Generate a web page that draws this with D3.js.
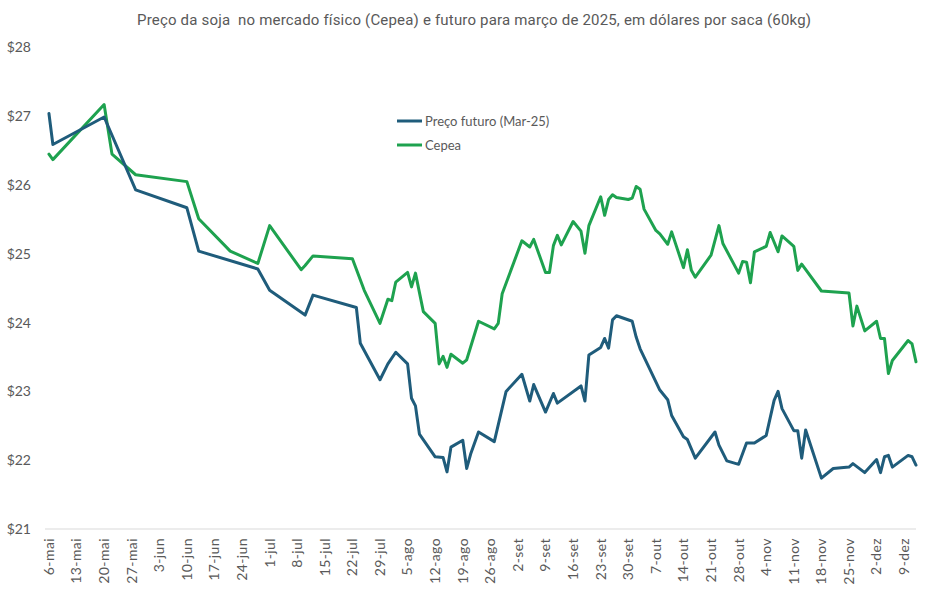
<!DOCTYPE html>
<html>
<head>
<meta charset="utf-8">
<script src="https://cdn.jsdelivr.net/npm/d3@7"></script>
<style>
    html, body { margin: 0; padding: 0; background: #ffffff; }
    svg { display: block; }
</style>
</head>
<body>
<svg id="chart"></svg>
<script>
const title = 'Preço da soja  no mercado físico (Cepea) e futuro para março de 2025, em dólares por saca (60kg)';

const seriesNames = ['Preço futuro (Mar-25)', 'Cepea'];

const futuroDates = [
    '2024-05-06', '2024-05-07', '2024-05-20', '2024-05-28', '2024-06-10', '2024-06-13',
    '2024-06-28', '2024-07-01', '2024-07-09', '2024-07-10', '2024-07-12', '2024-07-23',
    '2024-07-24', '2024-07-29', '2024-07-31', '2024-08-02', '2024-08-05', '2024-08-06',
    '2024-08-07', '2024-08-08', '2024-08-12', '2024-08-14', '2024-08-15', '2024-08-16',
    '2024-08-19', '2024-08-20', '2024-08-21', '2024-08-23', '2024-08-27', '2024-08-30',
    '2024-09-03', '2024-09-05', '2024-09-06', '2024-09-09', '2024-09-11', '2024-09-12',
    '2024-09-18', '2024-09-19', '2024-09-20', '2024-09-23', '2024-09-24', '2024-09-25',
    '2024-09-26', '2024-09-27', '2024-10-01', '2024-10-02', '2024-10-03', '2024-10-08',
    '2024-10-10', '2024-10-11', '2024-10-14', '2024-10-15', '2024-10-17', '2024-10-22',
    '2024-10-23', '2024-10-25', '2024-10-28', '2024-10-30', '2024-11-01', '2024-11-04',
    '2024-11-06', '2024-11-07', '2024-11-08', '2024-11-11', '2024-11-12', '2024-11-13',
    '2024-11-14', '2024-11-18', '2024-11-21', '2024-11-25', '2024-11-26', '2024-11-29',
    '2024-12-02', '2024-12-03', '2024-12-04', '2024-12-05', '2024-12-06', '2024-12-10',
    '2024-12-11', '2024-12-12'
];
const futuroValues = [
    27.04, 26.59, 26.99, 25.93, 25.67, 25.04,
    24.78, 24.47, 24.15, 24.11, 24.40, 24.22,
    23.70, 23.17, 23.40, 23.57, 23.40, 22.90,
    22.79, 22.38, 22.05, 22.04, 21.83, 22.19,
    22.29, 21.88, 22.09, 22.41, 22.27, 23.00,
    23.25, 22.86, 23.10, 22.70, 22.97, 22.83,
    23.08, 22.86, 23.53, 23.64, 23.77, 23.63,
    24.04, 24.10, 24.02, 23.79, 23.62, 23.02,
    22.88, 22.65, 22.34, 22.30, 22.03, 22.41,
    22.22, 21.99, 21.94, 22.25, 22.25, 22.36,
    22.87, 23.00, 22.75, 22.43, 22.43, 22.03,
    22.44, 21.74, 21.88, 21.90, 21.95, 21.82,
    22.01, 21.82, 22.05, 22.07, 21.90, 22.07,
    22.05, 21.93
];

const cepeaDates = [
    '2024-05-06', '2024-05-07', '2024-05-20', '2024-05-22', '2024-05-28', '2024-06-10',
    '2024-06-13', '2024-06-21', '2024-06-28', '2024-07-01', '2024-07-09', '2024-07-10',
    '2024-07-12', '2024-07-22', '2024-07-25', '2024-07-29', '2024-07-31', '2024-08-01',
    '2024-08-02', '2024-08-05', '2024-08-06', '2024-08-07', '2024-08-09', '2024-08-12',
    '2024-08-13', '2024-08-14', '2024-08-15', '2024-08-16', '2024-08-19', '2024-08-20',
    '2024-08-23', '2024-08-27', '2024-08-28', '2024-08-29', '2024-09-03', '2024-09-05',
    '2024-09-06', '2024-09-09', '2024-09-10', '2024-09-11', '2024-09-12', '2024-09-13',
    '2024-09-16', '2024-09-18', '2024-09-19', '2024-09-20', '2024-09-23', '2024-09-24',
    '2024-09-25', '2024-09-26', '2024-09-27', '2024-09-30', '2024-10-01', '2024-10-02',
    '2024-10-03', '2024-10-04', '2024-10-07', '2024-10-08', '2024-10-10', '2024-10-11',
    '2024-10-14', '2024-10-15', '2024-10-16', '2024-10-17', '2024-10-21', '2024-10-23',
    '2024-10-24', '2024-10-28', '2024-10-29', '2024-10-30', '2024-10-31', '2024-11-01',
    '2024-11-04', '2024-11-05', '2024-11-07', '2024-11-08', '2024-11-11', '2024-11-12',
    '2024-11-13', '2024-11-18', '2024-11-25', '2024-11-26', '2024-11-27', '2024-11-29',
    '2024-12-02', '2024-12-03', '2024-12-04', '2024-12-05', '2024-12-06', '2024-12-10',
    '2024-12-11', '2024-12-12'
];
const cepeaValues = [
    26.45, 26.37, 27.17, 26.45, 26.15, 26.05,
    25.51, 25.04, 24.86, 25.41, 24.77, 24.83,
    24.97, 24.93, 24.47, 23.99, 24.34, 24.32,
    24.59, 24.73, 24.52, 24.72, 24.16, 23.99,
    23.40, 23.51, 23.35, 23.54, 23.41, 23.46,
    24.02, 23.91, 23.99, 24.42, 25.19, 25.10,
    25.21, 24.73, 24.73, 25.12, 25.27, 25.13,
    25.47, 25.33, 25.01, 25.41, 25.83, 25.56,
    25.79, 25.86, 25.82, 25.79, 25.81, 25.98,
    25.94, 25.65, 25.34, 25.29, 25.14, 25.32,
    24.80, 25.06, 24.76, 24.66, 24.98, 25.41,
    25.15, 24.72, 24.89, 24.88, 24.58, 25.03,
    25.11, 25.31, 25.03, 25.26, 25.11, 24.76,
    24.85, 24.46, 24.43, 23.95, 24.24, 23.88,
    24.02, 23.77, 23.77, 23.26, 23.45, 23.74,
    23.69, 23.43
];

const tickDates = [
    '2024-05-06', '2024-05-13', '2024-05-20', '2024-05-27', '2024-06-03', '2024-06-10',
    '2024-06-17', '2024-06-24', '2024-07-01', '2024-07-08', '2024-07-15', '2024-07-22',
    '2024-07-29', '2024-08-05', '2024-08-12', '2024-08-19', '2024-08-26', '2024-09-02',
    '2024-09-09', '2024-09-16', '2024-09-23', '2024-09-30', '2024-10-07', '2024-10-14',
    '2024-10-21', '2024-10-28', '2024-11-04', '2024-11-11', '2024-11-18', '2024-11-25',
    '2024-12-02', '2024-12-09'
];
const monthNames = ['jan', 'fev', 'mar', 'abr', 'mai', 'jun', 'jul', 'ago', 'set', 'out', 'nov', 'dez'];

const yTicks = [21, 22, 23, 24, 25, 26, 27, 28];

class SoyChart {
    constructor (selector) {
        this._selector = selector;
        this.w = 948;
        this.h = 590;
        this.colors = ['#1f5c7b', '#1ea24f'];
        this.font = 'Lato, "Open Sans", sans-serif';
        this.textColor = '#595959';

        this.svg = d3.select(selector)
            .attr('width', this.w)
            .attr('height', this.h);

        let parse = d3.utcParse('%Y-%m-%d');
        this.parse = parse;

        this.x = d3.scaleUtc()
            .domain([parse('2024-05-05'), parse('2024-12-12')])
            .range([45, 916]);

        this.y = d3.scaleLinear()
            .domain([21, 28])
            .range([529, 47.5]);
    }
    makeSeries (dates, values) {
        let list = [];
        for (let i = 0; i < dates.length; i++)
            list.push({ date: this.parse(dates[i]), value: values[i] });

        return list;
    }
    drawTitle () {
        this.svg.append('text')
            .attr('x', 474)
            .attr('y', 25)
            .attr('text-anchor', 'middle')
            .style('white-space', 'pre')
            .attr('font-family', 'Roboto, sans-serif')
            .attr('font-size', 15)
            .attr('textLength', 674)
            .attr('fill', this.textColor)
            .text(title);
    }
    drawYAxis () {
        let y = this.y;

        this.svg.append('g')
            .attr('class', 'y labels')
            .selectAll('text')
            .data(yTicks)
            .enter()
            .append('text')
            .attr('x', 31)
            .attr('y', (d) => { return y(d); })
            .attr('dy', '0.35em')
            .attr('text-anchor', 'end')
            .attr('font-family', this.font)
            .attr('font-size', 14)
            .attr('fill', this.textColor)
            .text((d) => { return '$' + d; });
    }
    drawXAxis () {
        let x = this.x;
        let parse = this.parse;
        let y0 = this.y(21);

        this.svg.append('line')
            .attr('x1', x.range()[0])
            .attr('x2', x.range()[1])
            .attr('y1', y0)
            .attr('y2', y0)
            .attr('stroke', '#d9d9d9')
            .attr('stroke-width', 1);

        this.svg.append('g')
            .attr('class', 'x labels')
            .selectAll('text')
            .data(tickDates)
            .enter()
            .append('text')
            .attr('transform', (d) => {
                return 'translate(' + x(parse(d)) + ',' + (y0 + 9) + ') rotate(-90)';
            })
            .attr('dy', '0.35em')
            .attr('text-anchor', 'end')
            .attr('font-family', this.font)
            .attr('font-size', 14)
            .attr('letter-spacing', 0.4)
            .attr('fill', this.textColor)
            .text((d) => {
                let dt = parse(d);
                return dt.getUTCDate() + '-' + monthNames[dt.getUTCMonth()];
            });
    }
    drawLines () {
        let x = this.x;
        let y = this.y;

        let line = d3.line()
            .x((d) => { return x(d.date); })
            .y((d) => { return y(d.value); });

        let data = [
            { name: seriesNames[1], color: this.colors[1], values: this.makeSeries(cepeaDates, cepeaValues) },
            { name: seriesNames[0], color: this.colors[0], values: this.makeSeries(futuroDates, futuroValues) },
        ];

        this.svg.append('g')
            .attr('class', 'lines')
            .selectAll('path')
            .data(data)
            .enter()
            .append('path')
            .attr('d', (d) => { return line(d.values); })
            .attr('fill', 'none')
            .attr('stroke', (d) => { return d.color; })
            .attr('stroke-width', 3)
            .attr('stroke-linejoin', 'round')
            .attr('stroke-linecap', 'round');
    }
    drawLegend () {
        let items = [
            { name: seriesNames[0], color: this.colors[0], y: 121 },
            { name: seriesNames[1], color: this.colors[1], y: 145 },
        ];

        let g = this.svg.append('g')
            .attr('class', 'legend')
            .selectAll('g')
            .data(items)
            .enter()
            .append('g');

        g.append('line')
            .attr('x1', 397)
            .attr('x2', 422)
            .attr('y1', (d) => { return d.y; })
            .attr('y2', (d) => { return d.y; })
            .attr('stroke', (d) => { return d.color; })
            .attr('stroke-width', 3);

        g.append('text')
            .attr('x', 425)
            .attr('y', (d) => { return d.y; })
            .attr('dy', '0.35em')
            .attr('font-family', this.font)
            .attr('font-size', 13)
            .attr('fill', this.textColor)
            .text((d) => { return d.name; });
    }
    draw () {
        this.drawTitle();
        this.drawYAxis();
        this.drawXAxis();
        this.drawLines();
        this.drawLegend();
    }
}

new SoyChart('#chart').draw();
</script>
</body>
</html>
